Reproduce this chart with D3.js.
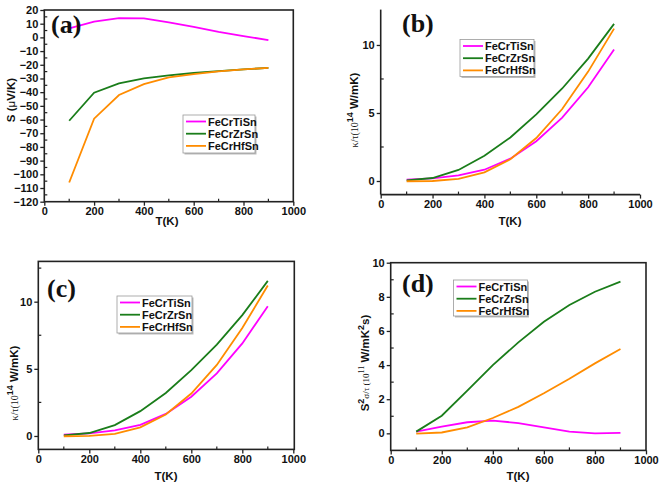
<!DOCTYPE html>
<html><head><meta charset="utf-8">
<script src="https://cdn.jsdelivr.net/npm/d3@7"></script>
<style>body{margin:0;background:#fff}svg{display:block}</style>
</head><body>
<svg id="c" width="661" height="484"></svg>
<script>
const temps = [100,200,300,400,500,600,700,800,900];
const seriesNames = ["FeCrTiSn","FeCrZrSn","FeCrHfSn"];
const colors = ["#ff00ff","#1a7d1a","#ff8c00"];
// (a) Seebeck coefficient S (uV/K)
const seebeckTi = [6.6,11.5,14.1,13.9,11,7.6,4.0,1.0,-2];
const seebeckZr = [-60.9,-40.4,-33.6,-30,-27.7,-26,-24.6,-23.4,-22.2];
const seebeckHf = [-106,-59.4,-42.1,-34.1,-29.2,-26.8,-24.8,-23.4,-22.2];
// (b),(c) kappa/tau (10^14 W/mK)
const kappaTi = [0.1,0.2,0.42,0.83,1.64,2.92,4.66,6.89,9.66];
const kappaZr = [0.05,0.22,0.81,1.85,3.2,4.9,6.8,9.0,11.55];
const kappaHf = [-0.02,0.0,0.15,0.64,1.6,3.16,5.29,8.04,11.2];
// (d) power factor S^2 sigma/tau (10^11 W/mK^2 s)
const pfTi = [0.1,0.4,0.65,0.75,0.6,0.35,0.1,0.0,0.03];
const pfZr = [0.1,1.03,2.5,4.0,5.33,6.54,7.52,8.3,8.89];
const pfHf = [-0.02,0.05,0.35,0.9,1.55,2.35,3.2,4.1,4.94];
const xTicks = [0,200,400,600,800,1000];

const svg = d3.select("#c");
const AX = "#222";
const F = "Liberation Sans, Arial, sans-serif";

function panel(o){
  const g = svg.append("g");
  const x = d3.scaleLinear().domain([0,1000]).range(o.xr);
  const y = d3.scaleLinear().domain(o.yd).range(o.yr);
  const [x0,x1] = o.xr, [yb,yt] = o.yr;
  // minor ticks (inside)
  d3.range(100,1000,200).forEach(v=>{
    g.append("line").attr("x1",x(v)).attr("x2",x(v)).attr("y1",yb).attr("y2",yb-3).attr("stroke",AX).attr("stroke-width",1.2);
  });
  o.yMinor.forEach(v=>{
    g.append("line").attr("x1",x0).attr("x2",x0+3).attr("y1",y(v)).attr("y2",y(v)).attr("stroke",AX).attr("stroke-width",1.2);
  });
  // axes
  const xa = d3.axisBottom(x).tickValues(xTicks).tickFormat(d3.format("d")).tickSize(4).tickSizeOuter(0).tickPadding(2);
  const ya = d3.axisLeft(y).tickValues(o.yTicks).tickFormat(d3.format("d")).tickSize(4).tickSizeOuter(0).tickPadding(2);
  const gx = g.append("g").attr("transform",`translate(0,${yb})`).call(xa);
  const gy = g.append("g").attr("transform",`translate(${x0},0)`).call(ya);
  [gx,gy].forEach(a=>{
    a.select(".domain").remove();
    a.selectAll("line").attr("stroke",AX).attr("stroke-width",1.3);
    a.selectAll("text").attr("fill","#111").style("font-family",F).style("font-size","11px").style("font-weight","bold");
  });
  // frame
  if(o.box){
    g.append("rect").attr("x",x0).attr("y",yt).attr("width",o.boxR-x0).attr("height",yb-yt).attr("fill","none").attr("stroke",AX).attr("stroke-width",1.6);
  } else {
    g.append("line").attr("x1",x0).attr("x2",x0).attr("y1",yt).attr("y2",yb).attr("stroke",AX).attr("stroke-width",1.6);
    g.append("line").attr("x1",x0).attr("x2",x1).attr("y1",yb).attr("y2",yb).attr("stroke",AX).attr("stroke-width",1.6);
  }
  // lines
  const line = d3.line().x((d,i)=>x(temps[i])).y(d=>y(d));
  o.data.forEach((s,i)=>{
    g.append("path").datum(s).attr("d",line).attr("fill","none").attr("stroke",colors[i]).attr("stroke-width",1.8);
  });
  // legend
  const L = o.leg;
  g.append("rect").attr("x",L.x+1.5).attr("y",L.y+1.5).attr("width",L.w).attr("height",L.h).attr("fill","#bbb");
  g.append("rect").attr("x",L.x).attr("y",L.y).attr("width",L.w).attr("height",L.h).attr("fill","#fff").attr("stroke","#999").attr("stroke-width",0.8);
  seriesNames.forEach((n,i)=>{
    const yy = L.y + 6.5 + i*12.2;
    g.append("line").attr("x1",L.x+3).attr("x2",L.x+23).attr("y1",yy).attr("y2",yy).attr("stroke",colors[i]).attr("stroke-width",1.8);
    g.append("text").attr("x",L.x+25).attr("y",yy+4).text(n).attr("fill","#111").style("font-family",F).style("font-size","11px").style("font-weight","bold");
  });
  // panel label
  g.append("text").attr("x",o.lab[0]).attr("y",o.lab[1]).text(o.label).attr("fill","#111")
    .style("font-family","Liberation Serif, Times New Roman, serif").style("font-size","26px").style("font-weight","bold");
  // x title
  g.append("text").attr("x",o.xt[0]).attr("y",o.xt[1]).attr("text-anchor","middle").text("T(K)").attr("fill","#111")
    .style("font-family",F).style("font-size","11.5px").style("font-weight","bold");
  // y title
  const yt_ = g.append("text").attr("transform",`translate(${o.yt[0]},${o.yt[1]}) rotate(-90)`).attr("text-anchor","middle")
    .attr("fill","#111").style("font-family",F).style("font-size","11.5px").style("font-weight","bold");
  o.ytitle(yt_);
}

function kappaTitle(t){
  t.append("tspan").text("κ/τ(10").style("font-family","Liberation Serif, serif").style("font-weight","normal").style("font-size","10px");
  t.append("tspan").text("14").attr("dy",-5).style("font-size","9px");
  t.append("tspan").text(" W/mK)").attr("dy",5);
}

panel({label:"(a)", lab:[51,33], xr:[44.3,293.3], boxR:293.3, yd:[-120,20], yr:[201.7,10], box:true,
  yTicks:d3.range(-120,21,10), yMinor:d3.range(-115,20,10),
  data:[seebeckTi,seebeckZr,seebeckHf], leg:{x:183,y:115,w:72,h:38},
  xt:[167,225], yt:[15,100],
  ytitle:t=>{t.append("tspan").text("S (");t.append("tspan").text("μ").style("font-weight","normal");t.append("tspan").text("V/K)");}
});
panel({label:"(b)", lab:[402,32], xr:[380.7,640], yd:[-1,12.6], yr:[194.6,9.6], box:false,
  yTicks:[0,5,10], yMinor:[2.5,7.5],
  data:[kappaTi,kappaZr,kappaHf], leg:{x:460,y:39.5,w:74,h:37},
  xt:[510,225], yt:[358,110], ytitle:kappaTitle
});
panel({label:"(c)", lab:[47,297], xr:[38.3,293.3], boxR:294.3, yd:[-1,13], yr:[449.4,261.4], box:true,
  yTicks:[0,5,10], yMinor:[2.5,7.5,12.5],
  data:[kappaTi,kappaZr,kappaHf], leg:{x:117,y:296,w:75,h:37},
  xt:[166,480], yt:[18,383], ytitle:kappaTitle
});
panel({label:"(d)", lab:[402,292], xr:[390.7,646], boxR:646, yd:[-1,10], yr:[450.4,262.7], box:true,
  yTicks:d3.range(0,11,2), yMinor:d3.range(1,10,2),
  data:[pfTi,pfZr,pfHf], leg:{x:453.5,y:280,w:74,h:36},
  xt:[518,480], yt:[369,363],
  ytitle:t=>{
    t.append("tspan").text("S");
    t.append("tspan").text("2").attr("dy",-5).style("font-size","9px");
    t.append("tspan").text("σ/τ (10").attr("dy",5).style("font-family","Liberation Serif, serif").style("font-weight","normal").style("font-size","9px");
    t.append("tspan").text("11").attr("dy",-5).style("font-family","Liberation Serif, serif").style("font-weight","normal").style("font-size","8px");
    t.append("tspan").text(" W/mK").attr("dy",5);
    t.append("tspan").text("2").attr("dy",-5).style("font-size","9px");
    t.append("tspan").text("s)").attr("dy",5);
  }
});
</script>
</body></html>
